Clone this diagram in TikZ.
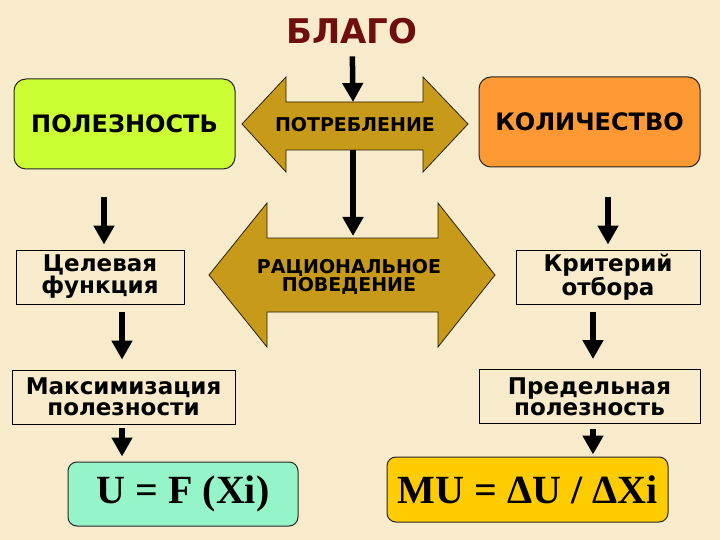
\documentclass[tikz,border=0pt]{standalone}
\usepackage{fontspec}
\setmainfont{Liberation Serif}
\newfontfamily\dvs{DejaVu Sans}
\usetikzlibrary{arrows.meta}
\definecolor{bgc}{HTML}{F7EBCB}
\definecolor{limec}{HTML}{CCFF33}
\definecolor{orangec}{HTML}{FF9933}
\definecolor{goldc}{HTML}{C89A1A}
\definecolor{mintc}{HTML}{96F5C8}
\definecolor{yellowc}{HTML}{FFCC00}
\definecolor{blagoc}{HTML}{6E0E0E}
\begin{document}
\begin{tikzpicture}[x=1pt,y=-1pt,
  arr/.style={line width=5.5pt,-{Triangle[length=19pt,width=20pt]}},
  darr/.style={fill=goldc,draw=black!80!goldc,line width=0.8pt,line join=miter},
  bigbox/.style={draw=black!85,line width=1pt,rounded corners=12pt,minimum width=221pt,minimum height=90pt,font=\dvs\bfseries\fontsize{24}{24}\selectfont},
  plainbox/.style={draw=black,line width=0.9pt,minimum height=54pt,align=center,inner sep=2pt,font=\dvs\bfseries\fontsize{23}{21}\selectfont},
  formbox/.style={draw=black!85,line width=1pt,rounded corners=9pt,font=\bfseries\fontsize{40}{40}\selectfont},
  arrtext/.style={align=center,font=\dvs\bfseries\fontsize{19}{18}\selectfont}]
\fill[bgc] (0,0) rectangle (720,540);
\useasboundingbox (0,0) rectangle (720,540);

\node[font=\dvs\bfseries\fontsize{34}{34}\selectfont,text=blagoc] (blago) at (352,31) {БЛАГО};

% top double arrow
\draw[darr] (242,124) -- (286,77) -- (286,102) -- (423,102) -- (423,77) -- (468,124)
  -- (423,172) -- (423,150) -- (286,150) -- (286,172) -- cycle;
\node[arrtext] (potr) at (355,125) {ПОТРЕБЛЕНИЕ};
\coordinate (potrtop) at (353,102);
\coordinate (potrbot) at (353,150);

% bottom double arrow
\draw[darr] (209,275) -- (267,203) -- (267,238) -- (438,238) -- (438,203) -- (495,275)
  -- (438,347) -- (438,312) -- (267,312) -- (267,347) -- cycle;
\node[arrtext] (ratio) at (349,277) {РАЦИОНАЛЬНОЕ\\ПОВЕДЕНИЕ};
\coordinate (ratiotop) at (353,238);

\node[bigbox,fill=limec] (polez) at (124.5,124) {ПОЛЕЗНОСТЬ};
\node[bigbox,fill=orangec] (kol) at (589.5,122) {КОЛИЧЕСТВО};

\node[plainbox,minimum width=168pt] (cel) at (100,277) {Целевая\\функция};
\node[plainbox,minimum width=184pt] (krit) at (608,277) {Критерий\\отбора};
\node[plainbox,minimum width=223pt] (maks) at (123.5,397) {Максимизация\\полезности};
\node[plainbox,minimum width=221pt] (pred) at (589.5,396.5) {Предельная\\полезность};

\node[formbox,fill=mintc,minimum width=230pt,minimum height=64pt] (ubox) at (183,494) {U = F (Xi)};
\node[formbox,fill=yellowc,minimum width=281pt,minimum height=65pt] (mubox) at (527.5,489.5) {MU = ΔU / ΔXi};

% connectors
\draw[arr,shorten <=9pt] (blago) -- (potrtop);
\draw[arr,shorten >=2pt] (potrbot) -- (ratiotop);
\draw[arr,shorten <=28pt,shorten >=5pt] ([xshift=-20.5pt]polez.south) -- ([xshift=4pt]cel.north);
\draw[arr,shorten <=30pt,shorten >=5pt] ([xshift=18.5pt]kol.south) -- (krit.north);
\draw[arr,shorten <=8pt,shorten >=10pt] ([xshift=22pt]cel.south) -- ([xshift=-1.5pt]maks.north);
\draw[arr,shorten <=8pt,shorten >=10pt] ([xshift=-15pt]krit.south) -- ([xshift=3.5pt]pred.north);
\draw[arr,shorten <=4pt,shorten >=5pt] ([xshift=-1.5pt]maks.south) -- ([xshift=-61pt]ubox.north);
\draw[arr,shorten <=5pt,shorten >=2pt] ([xshift=3.5pt]pred.south) -- ([xshift=65.5pt]mubox.north);
\end{tikzpicture}
\end{document}
